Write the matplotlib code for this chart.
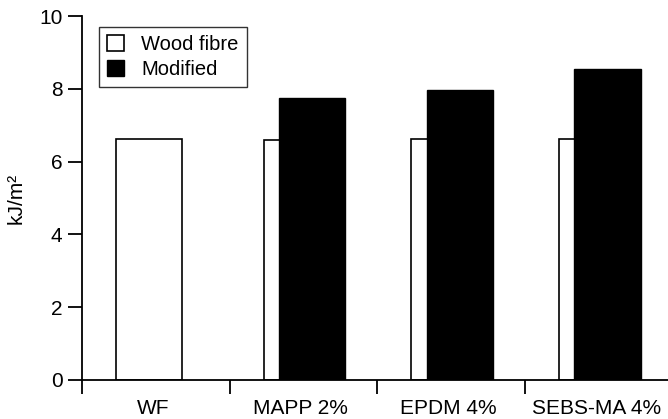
import matplotlib
matplotlib.use("Agg")
import matplotlib.pyplot as plt

plt.rcParams['font.family'] = ['Liberation Sans', 'DejaVu Sans']

# data
categories = ["WF", "MAPP 2%", "EPDM 4%", "SEBS-MA 4%"]
wood_fibre = [6.63, 6.60, 6.63, 6.63]
modified = [None, 7.75, 7.97, 8.55]

fig = plt.figure(figsize=(6.68, 4.19), dpi=100)
ax = fig.add_axes([0.1228, 0.0931, 0.8772, 0.8687])

x = list(range(len(categories)))
w = 0.45
ax.bar([i - 0.045 for i in x], wood_fibre, width=w, color="white",
       edgecolor="black", linewidth=1.2, label="Wood fibre", zorder=2)
mx = [i + 0.058 for i, v in zip(x, modified) if v is not None]
mv = [v for v in modified if v is not None]
ax.bar(mx, mv, width=w, color="black", edgecolor="black",
       linewidth=1.0, label="Modified", zorder=3)

ax.set_xlim(-0.5, 3.467)
ax.set_ylim(0, 10)
ax.set_yticks([0, 2, 4, 6, 8, 10])
ax.set_xticks([i - 0.02 for i in x])
ax.set_xticklabels(categories)
ax.set_xticks([-0.5, 0.5, 1.5, 2.5], minor=True)
ax.tick_params(axis="x", which="major", length=0, pad=14, labelsize=15)
ax.tick_params(axis="x", which="minor", length=10, width=1.3, direction="out")
ax.tick_params(axis="y", length=10, width=1.3, pad=4, labelsize=15)

for s in ["top", "right"]:
    ax.spines[s].set_visible(False)
for s in ["left", "bottom"]:
    ax.spines[s].set_linewidth(1.3)

ax.set_ylabel("kJ/m²", fontsize=15, labelpad=10)

leg = ax.legend(loc="upper left", bbox_to_anchor=(0.029, 0.97), fontsize=14.5,
                frameon=True, fancybox=False, edgecolor="black",
                handlelength=0.85, handleheight=0.85, handletextpad=0.85,
                borderpad=0.4, labelspacing=0.3, borderaxespad=0)
leg.get_frame().set_linewidth(1.0)

fig.savefig("out.png", dpi=100)
